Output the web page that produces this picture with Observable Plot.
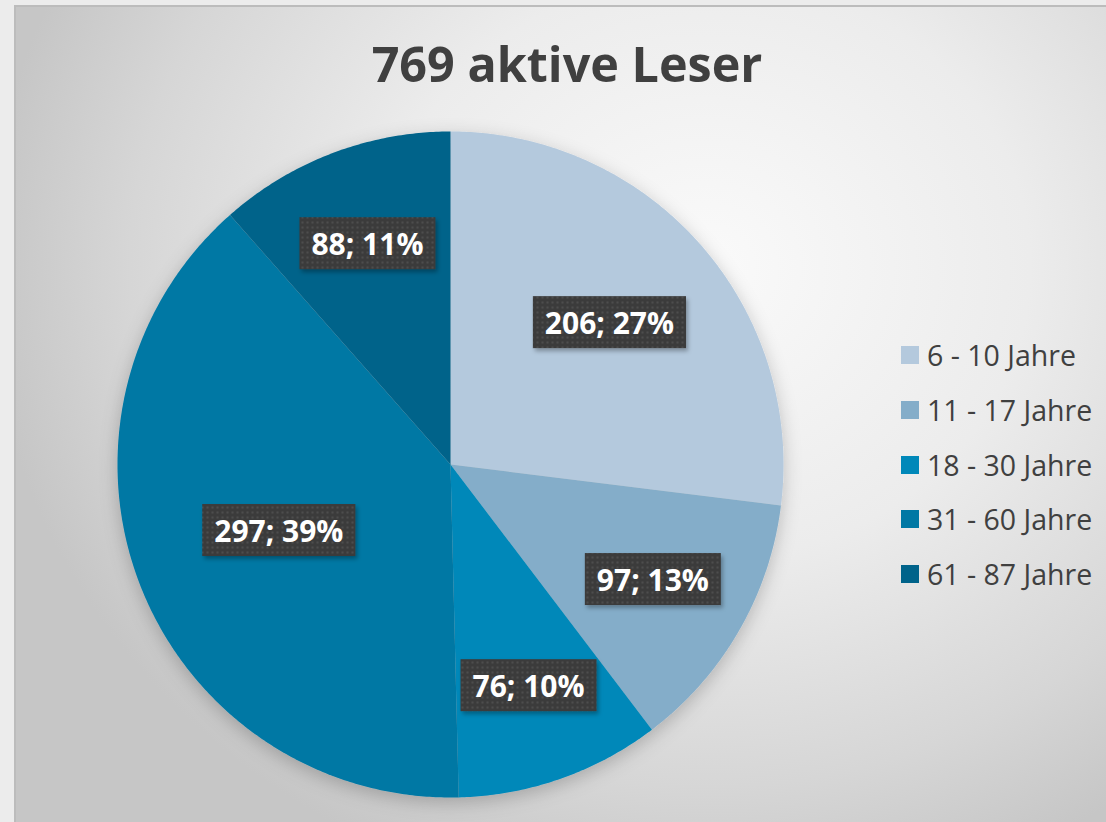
<!DOCTYPE html>
<html>
<head>
<meta charset="utf-8">
<script src="https://cdn.jsdelivr.net/npm/d3@7"></script>
<script src="https://cdn.jsdelivr.net/npm/@observablehq/plot@0.6"></script>
<style>
  html, body { margin: 0; padding: 0; background: #ececec; }
  #page { position: relative; width: 1106px; height: 822px; overflow: hidden; background: #ececec; }
  #frame { position: absolute; left: 14px; top: 5px; width: 1092px; height: 817px;
    box-sizing: border-box; border-top: 2px solid #bcbcbc; border-left: 2px solid #bcbcbc;
    background: radial-gradient(ellipse 720px 650px at 690px 260px, #fafafa 0%, #ececec 45%, #d6d6d6 80%, #c6c6c6 100%); }
  #title { position: absolute; left: 0; width: 1134px; top: 30px; text-align: center;
    font-family: "Open Sans", sans-serif; font-weight: 700; font-size: 48.5px; color: #404040; }
  #chart { position: absolute; left: 0; top: 0; }
  #legend { position: absolute; left: 901px; top: 328px; font-family: "Open Sans", sans-serif;
    font-size: 28.5px; color: #404040; }
  .row { display: flex; align-items: center; height: 54.7px; }
  .sw { width: 18px; height: 18px; margin-right: 8px; }
</style>
</head>
<body>
<div id="page">
  <div id="frame"></div>
  <div id="title">769 aktive Leser</div>
  <div id="chart"></div>
  <div id="legend"></div>
</div>
<script>
const categories = ["6 - 10 Jahre", "11 - 17 Jahre", "18 - 30 Jahre", "31 - 60 Jahre", "61 - 87 Jahre"];
const values = [206, 97, 76, 297, 88];
const percents = [27, 13, 10, 39, 11];
const colors = ["#b4c9dd", "#84adc9", "#0088b9", "#0078a4", "#00638a"];

const arcs = d3.pie().sort(null).value((d, i) => values[i])(categories);

// polygon outline points for each slice (unit circle, y up)
const piePoints = [];
arcs.forEach((a, i) => {
  const cat = categories[i];
  piePoints.push({cat, x: 0, y: 0});
  const n = Math.max(2, Math.ceil((a.endAngle - a.startAngle) / (Math.PI / 360)));
  for (let k = 0; k <= n; k++) {
    const t = a.startAngle + (a.endAngle - a.startAngle) * k / n;
    piePoints.push({cat, x: Math.sin(t), y: Math.cos(t)});
  }
  piePoints.push({cat, x: 0, y: 0});
});

// label positions: slightly outside the sector centroid
const labels = arcs.map((a, i) => {
  const half = (a.endAngle - a.startAngle) / 2;
  const mid = a.startAngle + half;
  const d = 1.08 * 2 * Math.sin(half) / (3 * half);
  return {x: d * Math.sin(mid), y: d * Math.cos(mid), text: `${values[i]}; ${percents[i]}%`};
});

const chart = Plot.plot({
  width: 1106,
  height: 822,
  margin: 0,
  x: {domain: [-1, 1], range: [117, 783], axis: null},
  y: {domain: [-1, 1], range: [797, 131], axis: null},
  color: {domain: categories, range: colors},
  style: {background: "transparent", overflow: "visible"},
  marks: [
    Plot.line(piePoints, {x: "x", y: "y", z: "cat", fill: "cat", stroke: "none", curve: "linear"}),
    Plot.text(labels, {x: "x", y: "y", text: "text", fill: "white", fontSize: 30, fontWeight: 700,
      fontFamily: "Open Sans, sans-serif"})
  ]
});
document.getElementById("chart").appendChild(chart);

// defs: pattern + shadows
const ns = "http://www.w3.org/2000/svg";
const defs = document.createElementNS(ns, "defs");
defs.innerHTML = `
  <pattern id="dots" width="5" height="5" patternUnits="userSpaceOnUse">
    <rect width="5" height="5" fill="#3a3a3a"></rect>
    <rect x="1" y="1" width="2" height="2" fill="#4d4d4d"></rect>
  </pattern>
  <filter id="pieShadow" x="-20%" y="-20%" width="140%" height="140%">
    <feDropShadow dx="0" dy="5" stdDeviation="9" flood-color="#000" flood-opacity="0.22"></feDropShadow>
  </filter>
  <filter id="boxShadow" x="-20%" y="-20%" width="140%" height="160%">
    <feDropShadow dx="2" dy="3" stdDeviation="2" flood-color="#000" flood-opacity="0.3"></feDropShadow>
  </filter>`;
chart.insertBefore(defs, chart.firstChild);
const lineG = chart.querySelector('g[aria-label="line"]');
if (lineG) lineG.setAttribute("filter", "url(#pieShadow)");

const textG = chart.querySelector('g[aria-label="text"]');
if (textG) {
  const texts = Array.from(textG.querySelectorAll("text"));
  texts.forEach(t => {
    const b = t.getBBox();
    let tx = 0, ty = 0;
    const tr = t.getAttribute("transform");
    if (tr) {
      const m = tr.match(/translate\(([-\d.e]+),\s*([-\d.e]+)\)/);
      if (m) { tx = +m[1]; ty = +m[2]; }
    }
    const padX = 12, h = 52;
    const r = document.createElementNS(ns, "rect");
    r.setAttribute("x", tx + b.x - padX);
    r.setAttribute("y", ty + b.y + b.height / 2 - h / 2);
    r.setAttribute("width", b.width + 2 * padX);
    r.setAttribute("height", h);
    r.setAttribute("fill", "url(#dots)");
    r.setAttribute("filter", "url(#boxShadow)");
    textG.insertBefore(r, textG.firstChild);
  });
}

// legend
const legend = document.getElementById("legend");
categories.forEach((c, i) => {
  const row = document.createElement("div");
  row.className = "row";
  row.innerHTML = `<div class="sw" style="background:${colors[i]}"></div><span>${c}</span>`;
  legend.appendChild(row);
});
</script>
</body>
</html>
